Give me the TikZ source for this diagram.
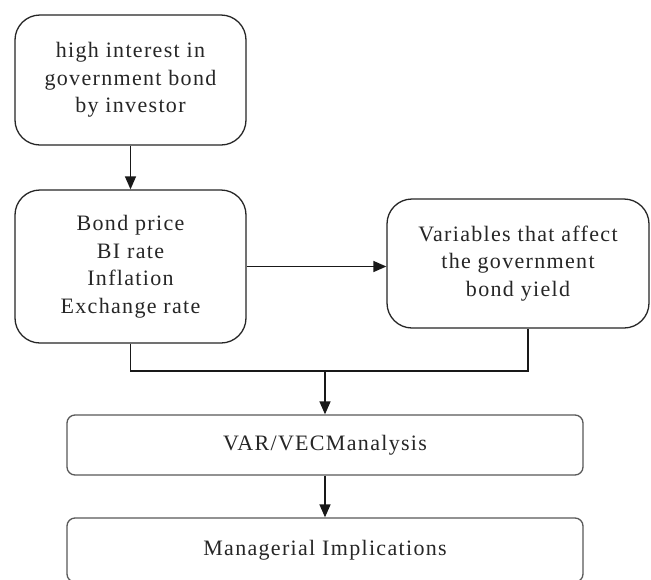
\documentclass[tikz,border=0pt]{standalone}
\usepackage{fontspec}
\setmainfont{Liberation Serif}[LetterSpace=6]
\usetikzlibrary{arrows.meta,calc}
\begin{document}
\begin{tikzpicture}[x=1pt,y=-1pt,
  bigbox/.style={draw=black!85,line width=1.3pt,rounded corners=25pt,align=center,
    font=\fontsize{22}{27.5}\selectfont,text=black!85,inner sep=0pt},
  flatbox/.style={draw=black!65,line width=1.3pt,rounded corners=8pt,align=center,
    font=\fontsize{22}{27.5}\selectfont,text=black!85,inner sep=0pt},
  conn/.style={draw=black!90,line width=1.4pt},
  arr/.style={conn,-{Triangle[length=13pt,width=11pt]}}]
\clip (0,0) rectangle (651,579);
\fill[white] (0,0) rectangle (651,579);
\node[bigbox,minimum width=231pt,minimum height=130pt] (b1) at (130.5,80)
  {high interest in\\government bond\\by investor};
\node[bigbox,minimum width=231pt,minimum height=153pt] (b2) at (130.5,266.5)
  {Bond price\\BI rate\\Inflation\\Exchange rate};
\node[bigbox,minimum width=262pt,minimum height=129pt] (b3) at (518,263.5)
  {Variables that affect\\the government\\bond yield};
\node[flatbox,minimum width=516pt,minimum height=60pt] (b4) at (325,445)
  {VAR/VECManalysis};
\node[flatbox,minimum width=516pt,minimum height=64pt] (b5) at (325,550)
  {Managerial Implications};
\coordinate (j) at (b4.north |- 0,371);
\draw[arr] (b1.south) -- (b2.north);
\draw[arr] (b2.east) -- (b2.east -| b3.west);
\draw[conn] (b2.south) |- (j);
\draw[conn] ([xshift=10pt]b3.south) |- (j);
\draw[arr] (j) -- (b4.north);
\draw[arr] (b4.south) -- (b5.north);
\end{tikzpicture}
\end{document}
